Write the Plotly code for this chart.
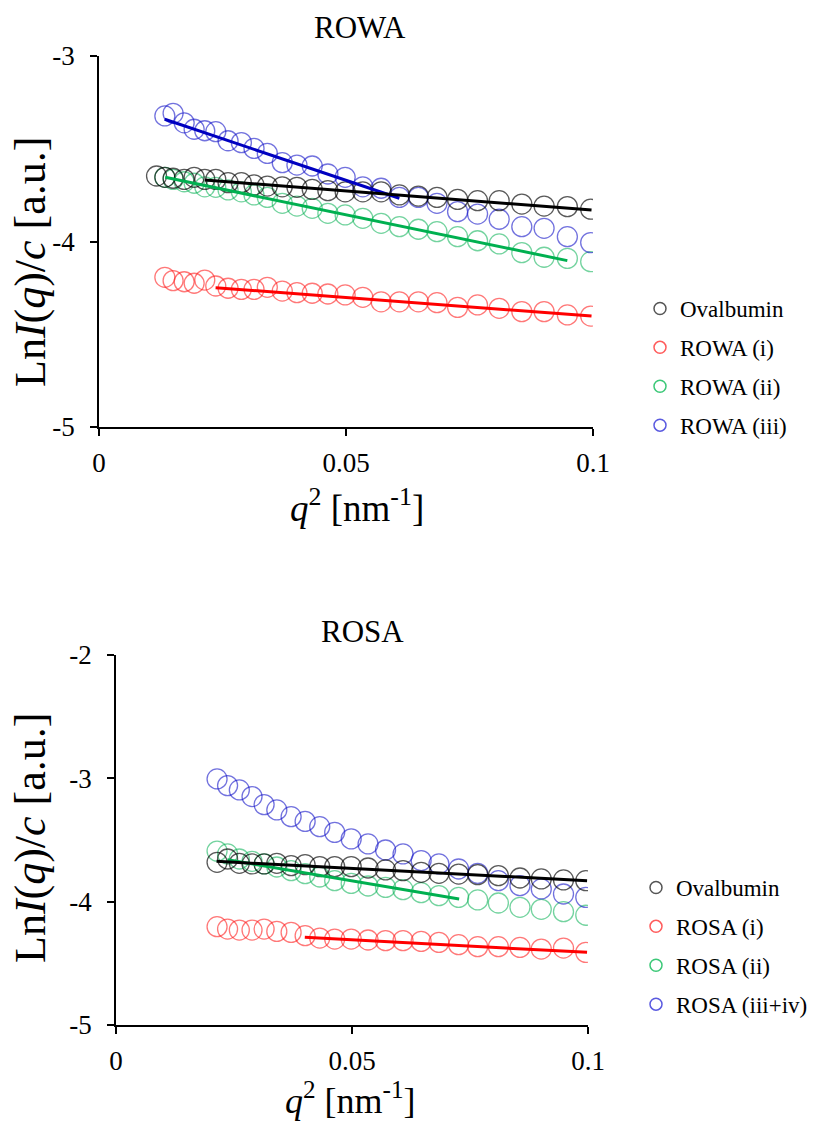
import plotly.graph_objects as go

# ---------------- data: ROWA (top) ----------------
q2_top = [0.01165, 0.01333, 0.01500, 0.01724, 0.01926, 0.02141, 0.02364, 0.02613, 0.02882,
          0.03138, 0.03407, 0.03710, 0.04007, 0.04316, 0.04633, 0.04983, 0.05340, 0.05711,
          0.06081, 0.06465, 0.06842, 0.07259, 0.07663, 0.08101, 0.08559, 0.09010, 0.09481, 0.09953]
ova_top = [-3.647, -3.654, -3.659, -3.665, -3.654, -3.665, -3.665, -3.683, -3.683, -3.695,
           -3.701, -3.705, -3.708, -3.719, -3.726, -3.732, -3.732, -3.732, -3.749, -3.755,
           -3.762, -3.773, -3.780, -3.780, -3.798, -3.809, -3.812, -3.826]
rowa_i = [-4.193, -4.211, -4.217, -4.225, -4.208, -4.240, -4.252, -4.258, -4.258, -4.247,
          -4.267, -4.276, -4.279, -4.283, -4.288, -4.301, -4.325, -4.325, -4.325, -4.330,
          -4.355, -4.342, -4.360, -4.378, -4.378, -4.396, -4.402]
rowa_ii = [-3.654, -3.665, -3.678, -3.686, -3.705, -3.708, -3.722, -3.732, -3.749, -3.762,
           -3.794, -3.809, -3.821, -3.848, -3.857, -3.875, -3.902, -3.920, -3.934, -3.947,
           -3.974, -3.996, -4.013, -4.060, -4.085, -4.091, -4.109]
rowa_iii = [-3.323, -3.309, -3.360, -3.395, -3.403, -3.408, -3.457, -3.467, -3.498, -3.525,
            -3.575, -3.588, -3.593, -3.636, -3.654, -3.705, -3.713, -3.762, -3.762, -3.794,
            -3.839, -3.852, -3.880, -3.920, -3.929, -3.974, -4.006]
fit_top_x = {"ova": [0.0214, 0.0997], "i": [0.0236, 0.0997], "ii": [0.0134, 0.0948], "iii": [0.0133, 0.0608]}
fit_top_y = {"ova": [-3.668, -3.830], "i": [-4.249, -4.402], "ii": [-3.654, -4.103], "iii": [-3.341, -3.767]}

# ---------------- data: ROSA (bottom) ----------------
q2_bot = [0.02141, 0.02364, 0.02613, 0.02882, 0.03138, 0.03407, 0.03710, 0.04007, 0.04316,
          0.04633, 0.04983, 0.05340, 0.05711, 0.06081, 0.06465, 0.06842, 0.07259, 0.07663,
          0.08101, 0.08559, 0.09010, 0.09481, 0.09953]
ova_bot = [-3.681, -3.654, -3.689, -3.694, -3.694, -3.689, -3.708, -3.700, -3.716, -3.716,
           -3.716, -3.727, -3.743, -3.749, -3.762, -3.770, -3.776, -3.781, -3.789, -3.808,
           -3.816, -3.824, -3.830]
rosa_i = [-4.203, -4.222, -4.230, -4.230, -4.222, -4.241, -4.249, -4.276, -4.295, -4.303,
          -4.303, -4.311, -4.316, -4.316, -4.322, -4.330, -4.349, -4.365, -4.365, -4.371,
          -4.384, -4.376, -4.411]
rosa_ii = [-3.590, -3.613, -3.654, -3.673, -3.694, -3.719, -3.749, -3.773, -3.800, -3.830,
           -3.852, -3.873, -3.884, -3.903, -3.927, -3.951, -3.965, -3.986, -4.011, -4.046,
           -4.062, -4.081, -4.110]
rosa_iii_iv = [-3.005, -3.059, -3.094, -3.148, -3.213, -3.256, -3.311, -3.349, -3.392, -3.438,
               -3.491, -3.532, -3.581, -3.613, -3.667, -3.694, -3.735, -3.770, -3.830, -3.870,
               -3.897, -3.938, -3.965]
fit_bot_x = {"ova": [0.0213, 0.0998], "i": [0.0400, 0.0998], "ii": [0.0236, 0.0727]}
fit_bot_y = {"ova": [-3.673, -3.830], "i": [-4.289, -4.411], "ii": [-3.660, -3.978]}

names_top = ["Ovalbumin", "ROWA (i)", "ROWA (ii)", "ROWA (iii)"]
names_bot = ["Ovalbumin", "ROSA (i)", "ROSA (ii)", "ROSA (iii+iv)"]

# ---------------- styles ----------------
W, H = 816, 1125
FONT = "Liberation Serif"
mk_col = ["rgba(0,0,0,0.65)", "rgba(255,30,30,0.6)", "rgba(0,175,80,0.55)", "rgba(20,20,200,0.6)"]
leg_col = ["#555555", "#ff5c5c", "#3cc878", "#5a5ae0"]
fit_col = ["#000000", "#ff0000", "#00b050", "#0000c0"]

fig = go.Figure()

def add_points(x, y, col, xa, ya):
    fig.add_trace(go.Scatter(x=x, y=y, mode="markers", showlegend=False, xaxis=xa, yaxis=ya,
                             marker=dict(symbol="circle-open", size=20, color=col,
                                         line=dict(width=1.3, color=col))))

def add_fit(x, y, col, xa, ya):
    fig.add_trace(go.Scatter(x=x, y=y, mode="lines", showlegend=False, xaxis=xa, yaxis=ya,
                             line=dict(color=col, width=3)))

# top
x_sets_top = [q2_top, q2_top[1:], q2_top[1:], q2_top[1:]]
y_sets_top = [ova_top, rowa_i, rowa_ii, rowa_iii]
keys = ["ova", "i", "ii", "iii"]
for k in [1, 2, 3, 0]:
    add_points(x_sets_top[k], y_sets_top[k], mk_col[k], "x", "y")
for k in [1, 2, 3, 0]:
    add_fit(fit_top_x[keys[k]], fit_top_y[keys[k]], fit_col[k], "x", "y")

# bottom
y_sets_bot = [ova_bot, rosa_i, rosa_ii, rosa_iii_iv]
for k in [1, 2, 3, 0]:
    add_points(q2_bot, y_sets_bot[k], mk_col[k], "x2", "y2")
for k in [1, 2, 0]:
    add_fit(fit_bot_x[keys[k]], fit_bot_y[keys[k]], fit_col[k], "x2", "y2")

# legend entries
for k in range(4):
    fig.add_trace(go.Scatter(x=[None], y=[None], mode="markers", name=names_top[k],
                             legend="legend", legendgroup="t%d" % k, xaxis="x", yaxis="y",
                             marker=dict(symbol="circle-open", size=12, color=leg_col[k],
                                         line=dict(width=1.5, color=leg_col[k]))))
for k in range(4):
    fig.add_trace(go.Scatter(x=[None], y=[None], mode="markers", name=names_bot[k],
                             legend="legend2", legendgroup="b%d" % k, xaxis="x2", yaxis="y2",
                             marker=dict(symbol="circle-open", size=12, color=leg_col[k],
                                         line=dict(width=1.5, color=leg_col[k]))))

axis_common = dict(showline=True, linecolor="black", linewidth=1.5, ticks="outside",
                   ticklen=7, tickwidth=1.5, tickcolor="black", showgrid=False, zeroline=False,
                   automargin=False,
                   tickfont=dict(family=FONT, size=27, color="black"), mirror=False)

def px_x(p):
    return p / W

def px_y(p):
    return 1 - p / H

LEG_FONT = dict(family=FONT, size=23, color="black")

fig.update_layout(
    template="none",
    width=W, height=H, margin=dict(l=0, r=0, t=0, b=0, pad=0), autosize=False,
    paper_bgcolor="white", plot_bgcolor="white",
    font=dict(family=FONT, color="black", size=23),
    xaxis=dict(domain=[px_x(99), px_x(593)], anchor="y", range=[0, 0.1], tickvals=[0, 0.05, 0.1],
               ticktext=["0", "0.05", "0.1"], ticklabelstandoff=4, **axis_common),
    yaxis=dict(domain=[px_y(427), px_y(56)], anchor="x", range=[-5, -3], tickvals=[-5, -4, -3],
               ticktext=["-5", "-4", "-3"], ticklabelstandoff=10, **axis_common),
    xaxis2=dict(domain=[px_x(116), px_x(588)], anchor="y2", range=[0, 0.1], tickvals=[0, 0.05, 0.1],
                ticktext=["0", "0.05", "0.1"], ticklabelstandoff=4, **axis_common),
    yaxis2=dict(domain=[px_y(1025), px_y(655)], anchor="x2", range=[-5, -2], tickvals=[-5, -4, -3, -2],
                ticktext=["-5", "-4", "-3", "-2"], ticklabelstandoff=10, **axis_common),
    legend=dict(x=px_x(640), y=px_y(287), xanchor="left", yanchor="top", bgcolor="rgba(0,0,0,0)",
                font=LEG_FONT, tracegroupgap=6, itemwidth=30, borderwidth=0),
    legend2=dict(x=px_x(636), y=px_y(866), xanchor="left", yanchor="top", bgcolor="rgba(0,0,0,0)",
                 font=LEG_FONT, tracegroupgap=6, itemwidth=30, borderwidth=0),
)

ann = []
def add_ann(text, xp, yp, size, angle=0):
    ann.append(dict(text=text, x=px_x(xp), y=px_y(yp), xref="paper", yref="paper", showarrow=False,
                    xanchor="center", yanchor="middle", textangle=angle,
                    font=dict(family=FONT, size=size, color="black")))

ytitle = "Ln<i>I</i>(<i>q</i>)/<i>c</i> [a.u.]"
xtitle = "<i>q</i><sup>2</sup> [nm<sup>-1</sup>]"
add_ann("ROWA", 360, 27, 31)
add_ann("ROSA", 362, 631, 31)
add_ann(ytitle, 30, 262, 44, -90)
add_ann(ytitle, 30, 838, 44, -90)
add_ann(xtitle, 357, 505, 37)
add_ann(xtitle, 350, 1098, 36)
fig.update_layout(annotations=ann)

fig.write_html("out.html")
